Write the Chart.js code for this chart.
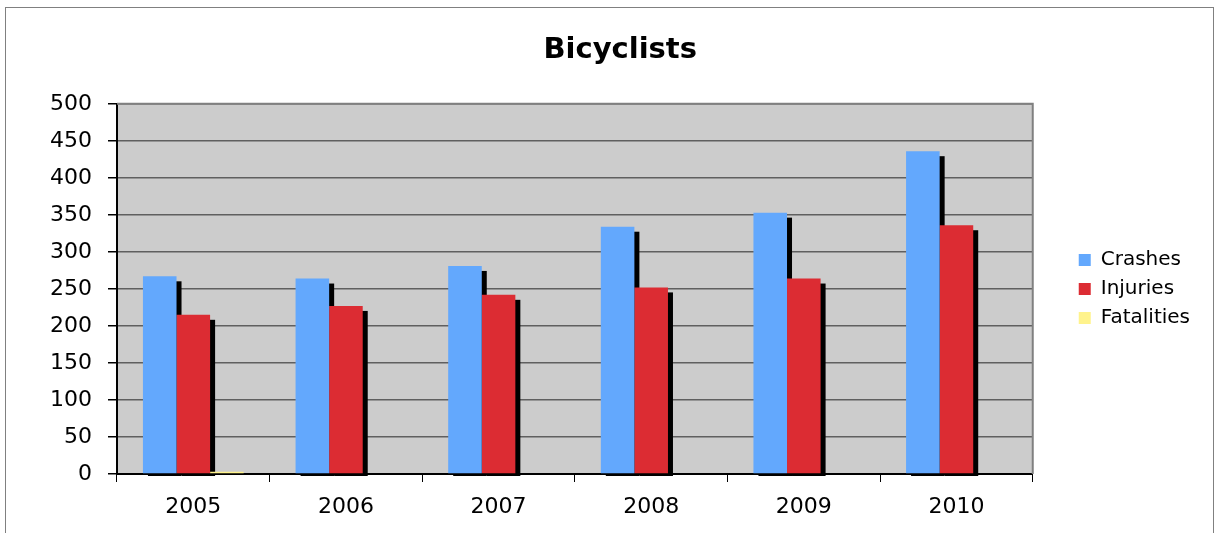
<!DOCTYPE html>
<html>
<head>
<meta charset="utf-8">
<script src="https://cdn.jsdelivr.net/npm/chart.js@4/dist/chart.umd.min.js"></script>
<style>
  html, body { margin: 0; padding: 0; background: #ffffff; }
  #frame { position: absolute; left: 5px; top: 7px; width: 1207px; height: 560px; border: 1px solid #808080; }
  #c { position: absolute; left: 0; top: 0; }
</style>
</head>
<body>
<div id="frame"></div>
<canvas id="c" width="1217" height="533"></canvas>
<script>
const years = ['2005', '2006', '2007', '2008', '2009', '2010'];
const crashes = [267, 264, 281, 334, 353, 436];
const injuries = [215, 227, 242, 252, 264, 336];
const fatalities = [3, 0, 1, 1, 0, 1];
const yTicks = [0, 50, 100, 150, 200, 250, 300, 350, 400, 450, 500];

const FONT = "'DejaVu Sans', Verdana, sans-serif";

const plotBg = {
  id: 'plotBg',
  beforeDraw(chart) {
    const { ctx, chartArea: a } = chart;
    ctx.save();
    ctx.fillStyle = '#cccccc';
    ctx.fillRect(a.left, a.top, a.right - a.left, a.bottom - a.top);
    ctx.restore();
  },
  afterDraw(chart) {
    const { ctx, chartArea: a } = chart;
    ctx.save();
    ctx.strokeStyle = '#808080';
    ctx.lineWidth = 2;
    ctx.beginPath();
    ctx.moveTo(a.left, a.top);
    ctx.lineTo(a.right, a.top);
    ctx.lineTo(a.right, a.bottom);
    ctx.stroke();
    ctx.restore();
  }
};

const barShadow = {
  id: 'barShadow',
  beforeDatasetsDraw(chart) {
    const { ctx, chartArea: a } = chart;
    ctx.save();
    ctx.beginPath();
    ctx.rect(a.left, a.top, a.right - a.left, a.bottom - a.top + 2);
    ctx.clip();
    ctx.fillStyle = '#000000';
    [0, 1].forEach(i => {
      chart.getDatasetMeta(i).data.forEach(el => {
        const w = el.width;
        const left = el.x - w / 2;
        ctx.fillRect(left + 5, el.y + 5, w, el.base - el.y + 2);
      });
    });
    ctx.restore();
  }
};

new Chart(document.getElementById('c'), {
  type: 'bar',
  data: {
    labels: years,
    datasets: [
      { label: 'Crashes', data: crashes, backgroundColor: '#63a8fd' },
      { label: 'Injuries', data: injuries, backgroundColor: '#dc2c33' },
      { label: 'Fatalities', data: fatalities, backgroundColor: '#fff38c' }
    ]
  },
  options: {
    responsive: false,
    animation: false,
    devicePixelRatio: 1,
    layout: { padding: { left: 0, right: 17, top: 0, bottom: 0 } },
    datasets: { bar: { barPercentage: 1.0, categoryPercentage: 0.66 } },
    plugins: {
      title: {
        display: true,
        text: '    Bicyclists',
        color: '#000000',
        font: { family: FONT, size: 29, weight: 'bold' },
        padding: { top: 33, bottom: 36 }
      },
      legend: {
        position: 'right',
        fullSize: false,
        labels: {
          color: '#000000',
          font: { family: FONT, size: 20 },
          boxWidth: 12,
          boxHeight: 12,
          padding: 9
        }
      },
      tooltip: { enabled: false }
    },
    scales: {
      x: {
        grid: { display: true, drawOnChartArea: false, drawTicks: true, tickLength: 8, color: '#000000', lineWidth: 1, offset: true },
        border: { display: true, color: '#000000', width: 2 },
        ticks: { color: '#000000', font: { family: FONT, size: 22 }, padding: 12, maxRotation: 0 },
        afterFit(s) { s.height = 59; }
      },
      y: {
        min: 0,
        max: 500,
        afterBuildTicks(s) { s.ticks = yTicks.map(v => ({ value: v })); },
        grid: { color: '#5f5f5f', lineWidth: 1.5, tickLength: 9, drawTicks: true, tickColor: '#000000' },
        border: { display: true, color: '#000000', width: 2 },
        ticks: { color: '#000000', font: { family: FONT, size: 22 }, padding: 16 },
        afterFit(s) { s.width = 117; }
      },
      gap: {
        type: 'linear',
        position: 'right',
        display: true,
        grid: { display: false },
        border: { display: false },
        ticks: { display: false },
        afterFit(s) { s.width = 37; }
      }
    }
  },
  plugins: [plotBg, barShadow]
});
</script>
</body>
</html>
